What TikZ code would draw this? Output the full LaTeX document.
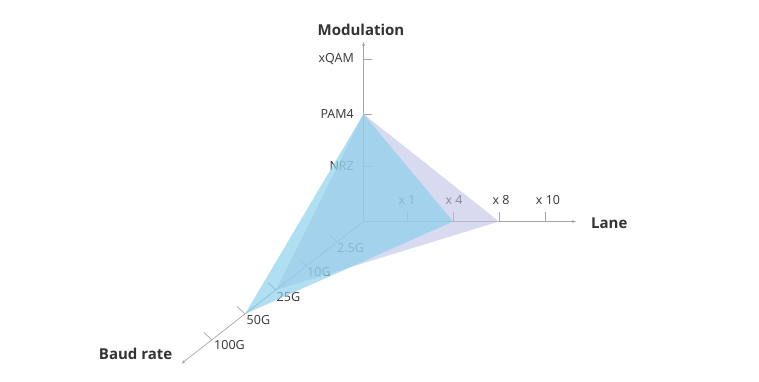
\documentclass[tikz,border=0pt]{standalone}
\usepackage{fontspec}
\setmainfont{Open Sans}
\usetikzlibrary{arrows.meta}
\definecolor{axisgray}{RGB}{165,165,165}
\definecolor{txt}{RGB}{51,51,51}
\definecolor{lav}{RGB}{190,194,228}
\definecolor{cyanf}{RGB}{134,206,235}
\tikzset{
  axis/.style={draw=axisgray, line width=0.7pt, -{Stealth[length=4pt,width=3pt]}},
  tick/.style={draw=axisgray, line width=0.7pt},
  lbl/.style={text=txt, font=\fontsize{12.5}{14}\selectfont, inner sep=0pt},
  title/.style={text=txt, font=\fontsize{15}{18}\selectfont\bfseries, inner sep=0pt},
  lavface/.style={fill=lav, fill opacity=0.6, draw=none},
  cyanface/.style={fill=cyanf, fill opacity=0.65, draw=none}
}
\begin{document}
\begin{tikzpicture}[x=1pt,y=-1pt]
\useasboundingbox (0,0) rectangle (759,382);
% axes
\coordinate (O) at (363.5,221.5);
\coordinate (vtip) at (363.5,42);
\coordinate (ltip) at (576,221.5);
\coordinate (btip) at (181.5,363.5);
\draw[axis] (O) -- (vtip);
\draw[axis] (O) -- (ltip);
\draw[axis] (O) -- (btip);
% vertical ticks
\coordinate (xqam) at (363.5,59);
\coordinate (pam4) at (363.5,114);
\coordinate (nrz) at (363.5,166);
\foreach \c in {xqam,pam4,nrz} \draw[tick] (\c) -- ++(8,0);
\node[lbl, anchor=east] (lxqam) at (354,59) {xQAM};
\node[lbl, anchor=east] (lpam4) at (354,114) {PAM4};
\node[lbl, anchor=east] (lnrz) at (354,166) {NRZ};
% lane ticks
\coordinate (x1) at (407,221.5);
\coordinate (x4) at (453,221.5);
\coordinate (x8) at (499,221.5);
\coordinate (x10) at (545,221.5);
\foreach \c in {x1,x4,x8,x10} \draw[tick] (\c) -- ++(0,-10);
\node[lbl] (lx1) at (407,200) {x 1};
\node[lbl] (lx4) at (454,200) {x 4};
\node[lbl] (lx8) at (501,200) {x 8};
\node[lbl] (lx10) at (548,200) {x 10};
% baud ticks
\coordinate (b25) at (337,242);
\coordinate (b10) at (307,266.5);
\coordinate (b250) at (276,290);
\coordinate (b50) at (245,314);
\coordinate (b100) at (212,340);
\foreach \c in {b25,b10,b250,b50,b100} \draw[tick] (\c) -- ++(-8,-7.5);
\node[lbl, anchor=west] (lb25) at (337,248) {2.5G};
\node[lbl, anchor=west] (lb10) at (307,272.5) {10G};
\node[lbl, anchor=west] (lb250) at (276.5,297) {25G};
\node[lbl, anchor=west] (lb50) at (246.5,320) {50G};
\node[lbl, anchor=west] (lb100) at (214,345) {100G};
% titles
\node[title] (tmod) at (361,30) {Modulation};
\node[title, anchor=west] (tlane) at (591,223) {Lane};
\node[title, anchor=east] (tbaud) at (172.5,354) {Baud rate};
% faces
\fill[lavface] (pam4) -- (x8) -- (b250) -- cycle;
\fill[cyanface] (pam4) -- (x4) -- (b50) -- cycle;
\end{tikzpicture}
\end{document}
